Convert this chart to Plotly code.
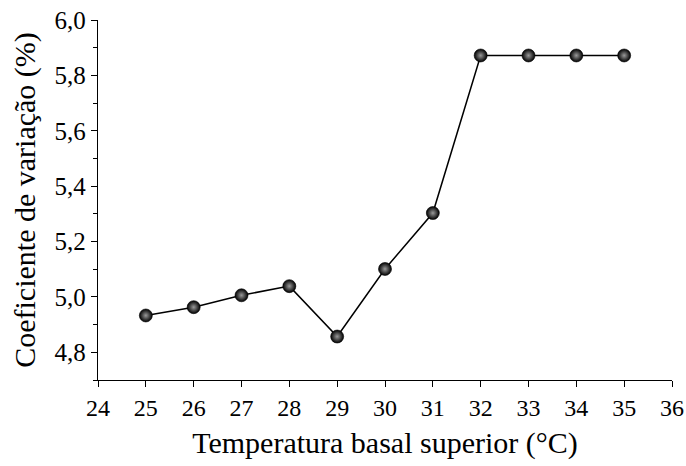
import plotly.graph_objects as go

temperature = [25, 26, 27, 28, 29, 30, 31, 32, 33, 34, 35]
cv_percent = [4.933, 4.963, 5.006, 5.039, 4.857, 5.101, 5.303, 5.872, 5.872, 5.872, 5.872]
x_ticks = list(range(24, 37))
y_ticks = [4.8, 5.0, 5.2, 5.4, 5.6, 5.8, 6.0]

fig = go.Figure()
fig.add_trace(go.Scatter(
    x=temperature, y=cv_percent, mode="lines+markers",
    line=dict(color="black", width=1.5),
    marker=dict(size=13, color="#000000",
                gradient=dict(type="radial", color="#9a9a9a"),
                line=dict(color="black", width=0.6)),
    showlegend=False, cliponaxis=False,
))

FAM = "Liberation Serif"
fig.update_layout(
    width=686, height=466,
    margin=dict(l=98, r=14, t=20, b=86),
    paper_bgcolor="white", plot_bgcolor="white",
    separators=",.",
    font=dict(family=FAM, color="black"),
)
fig.update_xaxes(
    range=[24, 36.0001], tickvals=x_ticks, ticktext=[str(v) for v in x_ticks],
    ticklabeloverflow="allow", automargin=False,
    showline=True, linecolor="black", linewidth=1.3,
    ticks="outside", ticklen=6, tickwidth=1.2, tickcolor="black",
    showgrid=False, zeroline=False,
    tickfont=dict(size=24, family=FAM, color="black"),
    title=dict(text="Temperatura basal superior (°C)", font=dict(size=30, family=FAM, color="black"), standoff=12),
)
fig.update_yaxes(
    range=[4.7, 6.0001], tickvals=y_ticks, tickformat=".1f",
    ticklabeloverflow="allow", automargin=False,
    showline=True, linecolor="black", linewidth=1.3,
    ticks="outside", ticklen=6, tickwidth=1.2, tickcolor="black",
    minor=dict(dtick=0.1, tick0=4.7, ticks="outside", ticklen=4, tickwidth=1, tickcolor="black", showgrid=False),
    showgrid=False, zeroline=False,
    tickfont=dict(size=25, family=FAM, color="black"),
    title=dict(text="Coeficiente de variação (%)", font=dict(size=30, family=FAM, color="black"), standoff=10),
)
fig.write_html("out.html")
